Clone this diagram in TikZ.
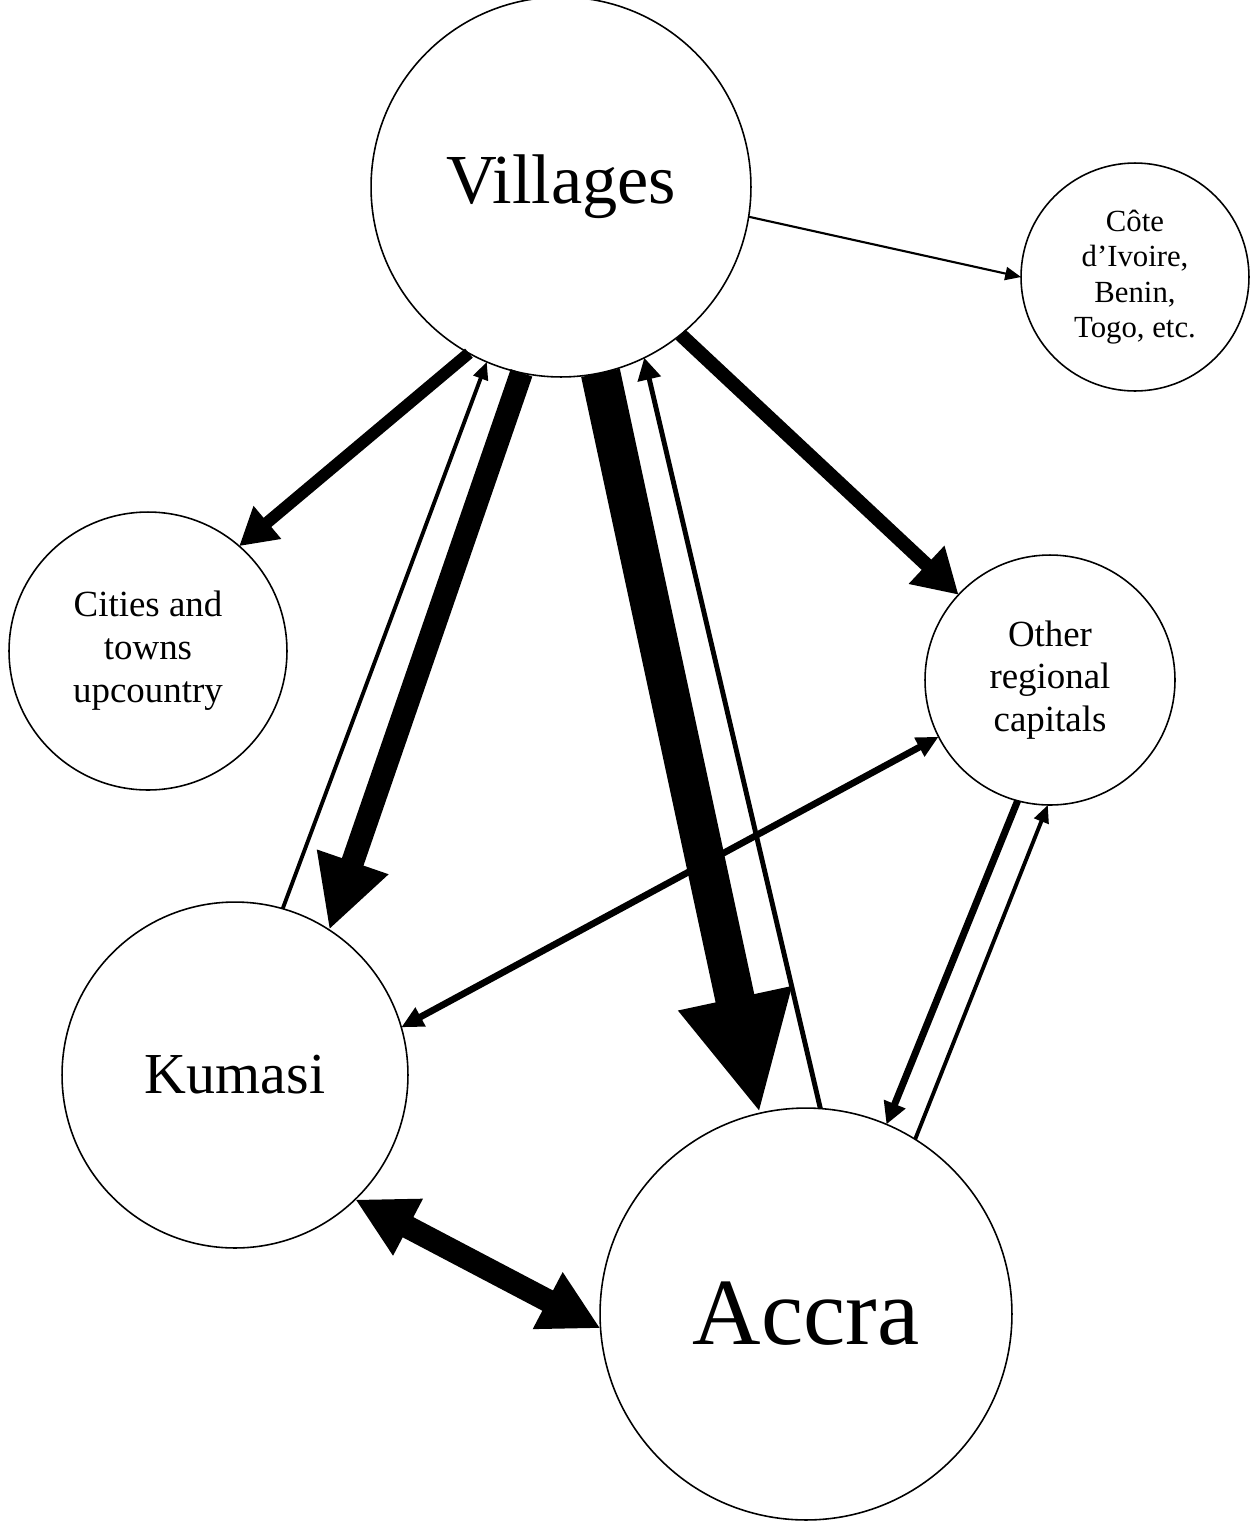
\documentclass[tikz,border=0pt]{standalone}
\usepackage{fontspec}
\setmainfont{Liberation Serif}
\usetikzlibrary{arrows.meta}
\tikzset{
  place/.style={
    draw,
    circle,
    line width=0.9pt,
    inner sep=0pt,
    outer sep=0pt,
    align=center
  },
  small/.style={font=\fontsize{21}{24.4}\selectfont},
  tiny/.style={font=\fontsize{17.5}{20.1}\selectfont},
  flowa/.style={-{Triangle[length=9pt,width=7.5pt]}, line width=1.2pt},
  flowb/.style={-{Triangle[length=10pt,width=8.5pt]}, line width=2.2pt},
  flowc/.style={-{Triangle[length=12.5pt,width=13pt]}, line width=2.8pt},
  flowd/.style={-{Triangle[length=12.5pt,width=12.5pt]}, line width=4pt},
  flowe/.style={-{Triangle[length=21pt,width=23pt]}, line width=6.8pt},
  flowf/.style={-{Triangle[length=25pt,width=28pt]}, line width=8pt},
  flowg/.style={-{Triangle[length=41pt,width=40pt]}, line width=13pt},
  flowh/.style={-{Triangle[length=67pt,width=61pt]}, line width=22.5pt},
  both/.style={{Triangle[length=34pt,width=34pt]}-{Triangle[length=34pt,width=34pt]}, line width=13pt},
  boththin/.style={{Triangle[length=12.5pt,width=11.5pt]}-{Triangle[length=12.5pt,width=11.5pt]}, line width=3.8pt}
}
\begin{document}
\begin{tikzpicture}[x=0.02cm, y=-0.02cm]
  \useasboundingbox (0,0) rectangle (1254,1522);

  \node[place, minimum size=7.6cm, font=\fontsize{40}{46}\selectfont] (villages) at (561,187) {Villages};
  \node[place, minimum size=4.56cm, tiny] (cote) at (1135,277) {Côte\\d’Ivoire,\\Benin,\\Togo, etc.};
  \node[place, minimum size=5.56cm, small] (cities) at (148,651) {Cities and\\towns\\upcountry};
  \node[place, minimum size=5cm, small] (other) at (1050,680) {Other\\regional\\capitals};
  \node[place, minimum size=6.92cm, font=\fontsize{33}{38}\selectfont] (kumasi) at (235,1075) {Kumasi};
  \node[place, minimum size=8.24cm, font=\fontsize{54}{60}\selectfont] (accra) at (806,1314) {Accra};

  % out of the villages
  \draw[flowa] (villages.-9.8) -- (cote.180);
  \draw[flowe] (villages.241) -- (cities.49.3);
  \draw[flowg] (villages.258) -- (kumasi.57.1);
  \draw[flowh] (villages.282.6) -- (accra.103.9);
  \draw[flowf] (villages.-51.7) -- (other.137.7);

  % back to the villages
  \draw[flowb] (kumasi.74) -- (villages.247.5);
  \draw[flowc] (accra.86.8) -- (villages.296.8);

  % between the towns
  \draw[boththin] (other.207.8) -- (kumasi.16.4);
  \draw[flowd] (other.255.6) -- (accra.67.3);
  \draw[flowb] (accra.58.8) -- (other.269);
  \draw[both] (kumasi.-46.7) -- (accra.184.4);
\end{tikzpicture}
\end{document}
